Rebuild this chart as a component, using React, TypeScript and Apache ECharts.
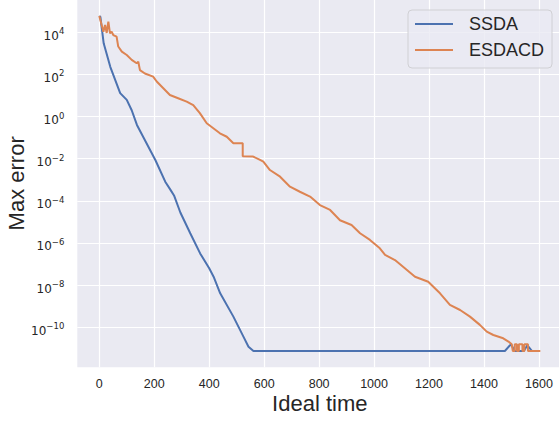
import React, { useEffect, useRef } from "react";
import * as echarts from "echarts";

// SSDA: ideal time vs max error
const ssdaTime = [0, 4, 16, 40, 76, 100, 118, 137, 204, 240, 258, 272, 295, 331, 367, 400, 416, 440, 488, 525, 543, 561, 1476, 1498, 1512, 1545, 1558, 1574];
const ssdaError = [5.9e4, 5.4e4, 3.0e3, 2.3e2, 13, 6.2, 2.0, 0.4, 8.7e-3, 8.1e-4, 3.5e-4, 1.8e-4, 2.8e-5, 2.9e-6, 3.2e-7, 6.3e-8, 2.5e-8, 4.1e-9, 3.2e-10, 3.5e-11, 1.2e-11, 7.5e-12, 7.5e-12, 1.55e-11, 7.5e-12, 7.5e-12, 1.4e-11, 7.5e-12];

// ESDACD: ideal time vs max error
const esdacdTime = [0, 15, 21, 27, 33, 39, 45, 51, 63, 69, 82, 100, 118, 136, 142, 148, 166, 196, 209, 233, 257, 287, 318, 342, 366, 391, 415, 439, 464, 488, 522, 522, 560, 585, 597, 621, 658, 694, 730, 767, 803, 840, 876, 918, 949, 985, 1021, 1040, 1076, 1112, 1149, 1197, 1240, 1276, 1313, 1349, 1385, 1410, 1434, 1470, 1489, 1501, 1505, 1512, 1512, 1520, 1520, 1527, 1527, 1540, 1540, 1547, 1547, 1560, 1560, 1605];
const esdacdError = [5.9e4, 1.07e4, 2.2e4, 9.3e3, 3.2e4, 8.9e3, 1.07e4, 7.4e3, 6.2e3, 2.1e3, 1.2e3, 8.3e2, 4.9e2, 3.4e2, 4.0e2, 1.6e2, 1.1e2, 78, 46, 22, 10.5, 7.4, 5.1, 3.5, 1.45, 0.48, 0.28, 0.16, 0.11, 0.054, 0.054, 0.013, 0.0126, 8.7e-3, 7.2e-3, 2.9e-3, 1.4e-3, 4.7e-4, 2.7e-4, 1.6e-4, 6.3e-5, 3.7e-5, 1.2e-5, 7.1e-6, 2.9e-6, 1.4e-6, 5.6e-7, 2.7e-7, 1.55e-7, 6.3e-8, 2.5e-8, 1.45e-8, 4.1e-9, 1.15e-9, 6.6e-10, 3.2e-10, 1.3e-10, 6.2e-11, 4.3e-11, 3.0e-11, 2.1e-11, 1.55e-11, 7.5e-12, 7.5e-12, 1.55e-11, 1.55e-11, 7.5e-12, 7.5e-12, 1.55e-11, 1.55e-11, 7.5e-12, 7.5e-12, 1.55e-11, 1.55e-11, 7.5e-12, 7.5e-12];

const seriesNames = ["SSDA", "ESDACD"];
const xAxisTitle = "Ideal time";
const yAxisTitle = "Max error";

const TEXT = "#262626";
const SANS = "'Liberation Sans', Arial, sans-serif";

export default function App() {
  const ref = useRef<HTMLDivElement>(null);
  useEffect(() => {
    if (!ref.current) return;
    const chart = echarts.init(ref.current, null, { renderer: "svg" });
    const pairs = (xs: number[], ys: number[]) => xs.map((x, i) => [x, ys[i]]);
    chart.setOption({
      animation: false,
      backgroundColor: "#ffffff",
      grid: {
        left: 77.3,
        top: -0.6,
        width: 485,
        height: 367.9,
        outerBoundsMode: "none",
        containLabel: false,
        show: true,
        backgroundColor: "#EAEAF2",
        borderWidth: 0,
      },
      legend: {
        orient: "vertical",
        left: 408,
        top: 10,
        data: seriesNames,
        icon: "rect",
        itemWidth: 38,
        itemHeight: 2,
        itemGap: 6,
        padding: [4, 8, 8, 7],
        backgroundColor: "rgba(234,234,242,0.8)",
        borderColor: "#d0d0d4",
        borderWidth: 1,
        borderRadius: 4,
        textStyle: {
          fontFamily: SANS,
          fontSize: 18,
          color: TEXT,
          lineHeight: 20,
          padding: [0, 0, 0, 11],
        },
      },
      xAxis: {
        type: "value",
        min: -80,
        max: 1685,
        splitNumber: 9,
        name: xAxisTitle,
        nameLocation: "middle",
        nameGap: 25,
        nameMoveOverlap: false,
        nameTextStyle: { fontFamily: SANS, fontSize: 22, color: TEXT },
        axisLine: { show: false },
        axisTick: { show: false },
        axisLabel: {
          fontFamily: SANS,
          fontSize: 12.5,
          color: TEXT,
          margin: 10,
          showMinLabel: false,
          showMaxLabel: false,
          formatter: (v: number) => String(v),
        },
        splitLine: {
          show: true,
          showMinLine: false,
          showMaxLine: false,
          lineStyle: { color: "#ffffff", width: 1.2 },
        },
      },
      yAxis: {
        type: "log",
        logBase: 100,
        min: 1.26e-12,
        max: 3.63e5,
        name: yAxisTitle,
        nameLocation: "middle",
        nameGap: 50,
        nameMoveOverlap: false,
        nameTextStyle: { fontFamily: SANS, fontSize: 22, color: TEXT },
        axisLine: { show: false },
        axisTick: { show: false },
        minorTick: { show: false },
        minorSplitLine: { show: false },
        axisLabel: {
          margin: 13,
          showMinLabel: false,
          showMaxLabel: false,
          formatter: (v: number) => {
            const l = Math.log10(v);
            const e = Math.round(l);
            if (Math.abs(l - e) > 0.01 || e % 2 !== 0) return "";
            const s = e < 0 ? "\u2212" + -e : String(e);
            return "{b|10}{s|" + s + "}";
          },
          rich: {
            b: { fontFamily: "'DejaVu Sans', sans-serif", fontSize: 12, color: TEXT, padding: [7, 0, 0, 0] },
            s: { fontFamily: "'DejaVu Sans', sans-serif", fontSize: 8.5, color: TEXT, padding: [0, 0, 2, 0] },
          },
        },
        splitLine: {
          show: true,
          showMinLine: false,
          showMaxLine: false,
          lineStyle: { color: "#ffffff", width: 1.2 },
        },
      },
      series: [
        {
          name: seriesNames[0],
          type: "line",
          data: pairs(ssdaTime, ssdaError),
          symbol: "none",
          lineStyle: { color: "#4C72B0", width: 2 },
          itemStyle: { color: "#4C72B0" },
        },
        {
          name: seriesNames[1],
          type: "line",
          data: pairs(esdacdTime, esdacdError),
          symbol: "none",
          lineStyle: { color: "#DD8452", width: 2 },
          itemStyle: { color: "#DD8452" },
        },
      ],
    });
    return () => chart.dispose();
  }, []);
  return (
    <div
      ref={ref}
      style={{ position: "fixed", left: 0, top: 0, width: 559, height: 421, background: "#ffffff" }}
    />
  );
}
